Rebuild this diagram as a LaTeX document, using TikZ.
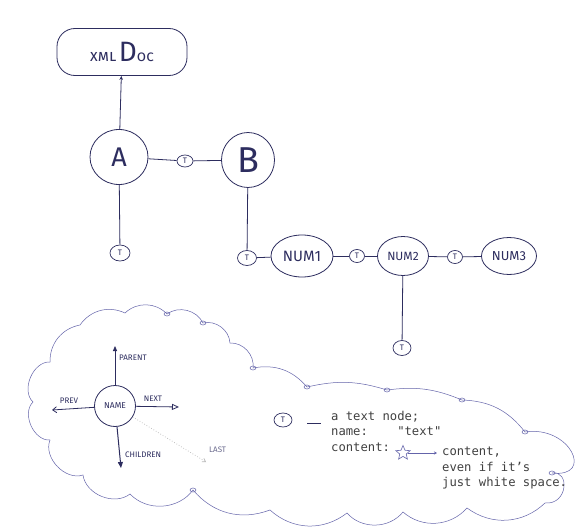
\documentclass[tikz,border=0pt]{standalone}
\usepackage{fontspec}
\setmainfont{Fira Sans}
\setmonofont{DejaVu Sans Mono}
\usetikzlibrary{shapes.geometric,arrows.meta}
\definecolor{ink}{RGB}{45,45,95}
\definecolor{cloudink}{RGB}{100,100,170}
\definecolor{textgray}{RGB}{65,65,65}
\begin{document}
\begin{tikzpicture}[x=1pt,y=-1pt,
  inkline/.style={draw=ink, line width=0.8pt},
  bignode/.style={inkline, ellipse, inner sep=0pt, text=ink},
  numnode/.style={inkline, ellipse, inner sep=0pt, text=ink},
  tnode/.style={draw=ink, line width=0.7pt, ellipse, inner sep=0pt, text=ink, font=\fontsize{8}{8}\selectfont},
  link/.style={draw=ink, line width=0.8pt},
  lbl/.style={text=ink, font=\fontsize{8}{8}\selectfont, inner sep=0pt},
  cloudline/.style={draw=cloudink, line width=0.5pt},
  mono/.style={text=textgray, font=\ttfamily\fontsize{12.2}{15.5}\selectfont, align=left, inner sep=0pt},
]
\useasboundingbox[fill=white] (0,0) rectangle (582,530);

% ---- tree ----
\node[inkline, rectangle, rounded corners=18, minimum width=130, minimum height=47, inner sep=0pt, text=ink] (doc) at (122,52)
  {{\fontsize{16}{16}\selectfont\textsc{xml}\,}{\fontsize{28}{28}\selectfont D}{\fontsize{15}{15}\selectfont\textsc{oc}}};
\node[bignode, minimum width=58, minimum height=55, font=\fontsize{27}{27}\selectfont] (A) at (119,157) {A};
\node[bignode, minimum width=53, minimum height=55, font=\fontsize{36}{36}\selectfont] (B) at (248,160) {B};
\node[tnode, minimum width=16, minimum height=12] (tAB) at (185,161) {T};
\node[tnode, minimum width=20, minimum height=16] (tA) at (120,253) {T};
\node[tnode, minimum width=19, minimum height=15] (tB) at (247,258) {T};
\node[numnode, minimum width=62, minimum height=42, font=\fontsize{15}{15}\selectfont] (n1) at (302,256) {NUM1};
\node[tnode, minimum width=15, minimum height=13] (t12) at (357,256) {T};
\node[numnode, minimum width=51, minimum height=39, font=\fontsize{12}{12}\selectfont] (n2) at (403,256) {NUM2};
\node[tnode, minimum width=15, minimum height=13] (t23) at (455,257) {T};
\node[numnode, minimum width=55, minimum height=37, font=\fontsize{13}{13}\selectfont] (n3) at (509,256) {NUM3};
\node[tnode, minimum width=18, minimum height=15] (tN2) at (402,348) {T};

\draw[link, -{Stealth[length=4pt, width=3.5pt]}] (A) -- (doc);
\draw[link] (A) -- (tAB);
\draw[link] (tAB) -- (B);
\draw[link] (A) -- (tA);
\draw[link] (B) -- (tB);
\draw[link] (tB) -- (n1);
\draw[link] (n1) -- (t12);
\draw[link] (t12) -- (n2);
\draw[link] (n2) -- (t23);
\draw[link] (t23) -- (n3);
\draw[link] (n2) -- (tN2);

% ---- cloud ----
\draw[cloudline] (50,362) to[bend left=40] (80,325) to[bend left=40] (125,313)
  to[bend left=45] (167,314) to[bend left=50] (203,323) to[bend left=50] (230,343)
  to[bend left=50] (253,368) to[bend left=30] (307,387) to[bend left=15] (387,390)
  to[bend left=15] (462,400) to[bend left=25] (525,432)
  .. controls (570,425) and (595,478) .. (552,473)
  .. controls (570,470) and (568,505) .. (545,503)
  to[bend left=40] (467,508) to[bend left=45] (403,512) to[bend left=50] (347,513)
  to[bend left=40] (270,510) to[bend left=35] (193,490) to[bend left=50] (130,494)
  to[bend left=60] (83,475) to[bend left=65] (50,440) to[bend left=70] (33,402)
  to[bend left=70] (50,362);
\foreach \p in {(167,314),(203,323),(253,368),(307,387),(387,390),(462,400),(525,432),(552,473),(193,490)}
  \draw[cloudline] \p ellipse[x radius=3, y radius=2];

% ---- legend: links ----
\node[inkline, circle, minimum size=41, inner sep=0pt, text=ink, font=\fontsize{8.5}{8.5}\selectfont] (name) at (115,406) {NAME};
\coordinate (pEnd) at (115,346);
\coordinate (vEnd) at (52,410);
\coordinate (xEnd) at (179,407);
\coordinate (cEnd) at (121,468);
\coordinate (lEnd) at (206,462);
\draw[link, -{Triangle[length=5pt,width=4pt]}] (name) -- (pEnd);
\draw[link, -{Straight Barb[length=4pt,width=6pt]}] (name) -- (vEnd);
\draw[link, -{Triangle[open,length=7pt,width=6pt]}] (name) -- (xEnd);
\draw[link, line width=1pt, -{Triangle[length=6pt,width=5pt]}] (name) -- (cEnd);
\draw[draw=gray!55, line width=0.7pt, dotted, -{Straight Barb[length=3pt,width=4pt]}] (name) -- (lEnd);
\node[lbl, anchor=west] (lp) at (119,358) {PARENT};
\node[lbl, anchor=south] (lv) at (69,404) {PREV};
\node[lbl, anchor=south] (lx) at (153,402) {NEXT};
\node[lbl, anchor=west] (lc) at (125,455) {CHILDREN};
\node[lbl, anchor=west, text=ink!70] (ll) at (209,450) {LAST};

% ---- legend: text node ----
\node[tnode, minimum width=18, minimum height=14] (tleg) at (283,420) {T};
\coordinate (dashA) at (307,423);
\coordinate (dashB) at (321,423);
\draw[link, line width=0.6pt] (dashA) -- (dashB);
\node[mono, anchor=north west] (legend) at (331,411) {a text node;\\name:\ \ \ \ "text"\\content:};
\node[star, star points=5, star point ratio=2.2, draw=cloudink, line width=0.6pt, minimum size=15, inner sep=0pt] (star) at (403,453) {};
\coordinate (cArr) at (437,453);
\draw[draw=cloudink, line width=0.5pt, -{Stealth[length=3pt,width=3pt]}] (star) -- (cArr);
\node[mono, anchor=north west] (content) at (442,447) {content,\\even if it’s\\just white space.};
\end{tikzpicture}
\end{document}
